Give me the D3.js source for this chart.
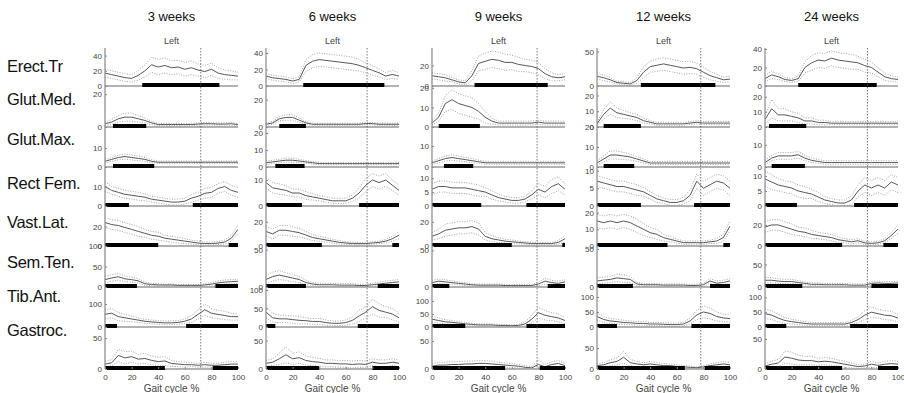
<!DOCTYPE html>
<html>
<head>
<meta charset="utf-8">
<script src="https://cdn.jsdelivr.net/npm/d3@7"></script>
<style>
  body { margin: 0; background: #fff; }
  svg { display: block; font-family: 'Liberation Sans', Arial, sans-serif; }
</style>
</head>
<body>
<svg id="chart" width="904" height="393"></svg>
<script>
// gait cycle sample points (%)
const cycle = [0, 5, 10, 15, 20, 25, 30, 35, 40, 45, 50, 55, 60, 65, 70, 75, 80, 85, 90, 95, 100];

const weeks = ['3 weeks', '6 weeks', '9 weeks', '12 weeks', '24 weeks'];
const muscles = ['Erect.Tr', 'Glut.Med.', 'Glut.Max.', 'Rect Fem.', 'Vast.Lat.', 'Sem.Ten.', 'Tib.Ant.', 'Gastroc.'];
const xTicks = [0, 20, 40, 60, 80, 100];

// toe-off line (% of cycle) per column
const toeOff = [72, 76, 79, 78, 77];

// y limits per column, per muscle
const yMax = [
  [50, 25, 21, 20, 41, 100, 174, 68],
  [46, 30, 23.5, 15, 33, 55, 108, 74],
  [37, 21, 19, 14, 33, 56, 154, 75],
  [55, 26, 20, 11, 24, 54, 133, 100],
  [41, 27, 18, 13, 38, 91, 135, 70]
];
const yTicks = [
  [[0, 20, 40], [0, 20], [0, 10], [0, 10], [0, 20], [0, 50, 100], [0, 100], [0, 50]],
  [[0, 20, 40], [0, 20], [0, 10, 20], [0, 10], [0, 20], [0, 50], [0, 50, 100], [0, 50]],
  [[0, 20], [0, 10, 20], [0, 10], [0, 5, 10], [0, 20], [0, 50], [0, 50, 100], [0, 50]],
  [[0, 50], [0, 10, 20], [0, 10, 20], [0, 5, 10], [0, 10, 20], [0, 50], [0, 50, 100], [0, 50]],
  [[0, 20, 40], [0, 10, 20], [0, 10], [0, 5, 10], [0, 20], [0, 50], [0, 50, 100], [0, 50]]
];

// mean EMG envelopes
const mean3w = [
  [17, 15, 13, 11, 10, 14, 20, 28, 25, 27, 24, 25, 22, 24, 21, 19, 22, 17, 15, 14, 13],
  [2, 3, 5, 6, 6, 5, 4, 2.5, 1.5, 1.5, 1.5, 1.5, 1.5, 1.5, 1.8, 2, 2, 1.8, 1.8, 2, 1.5],
  [3, 4, 5, 5.5, 5, 4.5, 4, 3, 2.5, 2.5, 2.5, 2.5, 2.5, 2.5, 2.5, 2.5, 2.5, 2.5, 2.5, 2.5, 2.5],
  [10, 8, 7, 6, 5.5, 5, 4.5, 3.5, 3, 2.5, 2, 2, 2.5, 4, 5, 6.5, 7, 9, 10, 8, 7],
  [24, 22, 21, 19, 17, 15, 13, 11, 10, 8, 7, 6, 5, 4, 3, 2.5, 2.5, 3, 4, 8, 17],
  [18, 22, 25, 20, 18, 15, 8, 6, 5, 5, 5, 4, 4, 4, 4, 5, 7, 10, 12, 13, 14],
  [55, 60, 45, 40, 35, 30, 25, 22, 20, 18, 18, 20, 25, 35, 55, 75, 60, 55, 50, 45, 45],
  [8, 10, 22, 18, 20, 16, 17, 14, 12, 13, 9, 8, 7, 7, 6, 7, 6, 6, 7, 8, 8]
];
const mean6w = [
  [12, 10, 9, 8, 6, 8, 25, 30, 32, 31, 30, 29, 28, 27, 25, 22, 19, 16, 12, 14, 12],
  [2, 3, 6, 7, 7, 5, 3, 2, 2, 2, 2, 2, 2, 2, 2, 2.5, 2.5, 2, 2, 2, 2],
  [2.5, 3, 3.5, 4, 4, 3.5, 3, 2.5, 2, 2, 2, 2, 2, 2, 2, 2, 2, 2, 2, 2, 2],
  [9, 7, 6.5, 6, 5, 5, 4, 3.5, 3, 2.5, 2, 2, 2, 3, 5, 8, 10, 9, 10, 8, 6],
  [12, 10, 13, 13, 12, 11, 9, 7, 6, 5, 4, 3, 2.5, 2, 2, 2, 2.5, 3, 4, 6, 9],
  [10, 14, 16, 14, 12, 10, 6, 4, 3, 3, 3, 2.5, 2.5, 2.5, 2, 2, 3, 4, 5, 6, 7],
  [40, 25, 22, 22, 20, 18, 17, 15, 15, 12, 10, 10, 12, 18, 30, 40, 55, 45, 40, 35, 25],
  [10, 12, 18, 25, 18, 20, 15, 13, 12, 10, 10, 9, 9, 8, 9, 8, 12, 10, 10, 12, 10]
];
const mean9w = [
  [10, 9, 8, 6, 4, 3, 10, 22, 24, 26, 25, 23, 23, 21, 20, 19, 17, 12, 9, 8, 9],
  [2, 5, 12, 14, 12, 11, 10, 8, 5, 3, 2, 2, 2, 2, 2, 2, 2.5, 2, 2, 2, 2],
  [2, 3, 4, 4.5, 4, 3.5, 3, 2.5, 2, 2, 2, 2, 2, 2, 2, 2, 2, 2, 2, 2, 2],
  [6, 7, 7, 6.5, 6.5, 6.5, 6, 5.5, 5, 4, 3, 2.5, 2, 2, 2.5, 4, 6, 5, 7, 8, 6],
  [8, 10, 13, 14, 15, 15, 16, 14, 8, 6, 5, 4, 3.5, 3, 2.5, 2, 2, 2, 2, 3, 6],
  [6, 8, 7, 6, 5, 4, 3, 2.5, 2.5, 2.5, 2.5, 2, 2, 2, 2, 2, 4, 8, 6, 5, 7],
  [30, 25, 20, 18, 15, 12, 10, 8, 8, 8, 6, 6, 5, 6, 12, 30, 55, 45, 40, 35, 25],
  [5, 7, 7, 8, 8, 9, 9, 10, 10, 9, 8, 7, 6, 5, 3, 2, 8, 4, 8, 10, 6]
];
const mean12w = [
  [14, 12, 9, 5, 4, 3, 8, 20, 28, 30, 32, 30, 28, 26, 27, 25, 20, 15, 12, 9, 10],
  [2, 8, 12, 9, 8, 7, 6, 4, 3, 2, 2, 2, 2, 2, 2.5, 3, 2.5, 2.5, 2.5, 2.5, 2.5],
  [2, 4, 6, 6, 5.5, 5, 4, 3, 2, 2, 2, 2, 2, 2, 2, 2, 2, 2, 2, 2, 2],
  [7, 6.5, 6, 5.5, 5.5, 5, 4.5, 4, 3, 2, 1.5, 1, 1, 1.5, 3, 7, 5, 6, 7, 6.5, 5],
  [15, 14, 15, 14, 15, 14, 12, 10, 8, 7, 5, 4, 3, 2, 2, 2, 2, 2.5, 3, 5, 12],
  [8, 9, 10, 12, 11, 10, 4, 3, 3, 3, 2.5, 2.5, 2.5, 2.5, 2, 2, 3, 8, 5, 6, 8],
  [35, 25, 20, 18, 15, 14, 12, 12, 10, 10, 9, 8, 8, 10, 20, 40, 50, 45, 35, 30, 28],
  [8, 10, 15, 18, 28, 15, 12, 10, 12, 10, 8, 8, 6, 5, 4, 3, 5, 8, 10, 12, 10]
];
const mean24w = [
  [8, 12, 10, 7, 6, 8, 20, 25, 28, 27, 30, 28, 27, 26, 25, 22, 20, 15, 10, 8, 7],
  [5, 12, 8, 8, 7, 6, 4, 4, 3, 3, 2.5, 2.5, 2.5, 2.5, 2.5, 2.5, 2.5, 2.5, 2.5, 2.5, 2.5],
  [2, 4, 5, 5, 5, 5.5, 4, 3, 2.5, 2, 2, 2, 2, 2, 2, 2, 2, 2, 2, 2, 2],
  [9, 8, 7, 6.5, 6, 5, 4.5, 4, 3, 2, 1.5, 1, 1, 2, 5, 7, 6, 7, 6, 8, 7],
  [18, 20, 20, 18, 16, 14, 13, 11, 10, 9, 8, 6, 5, 4, 5, 3, 2.5, 3, 5, 10, 16],
  [15, 15, 13, 12, 12, 10, 8, 6, 6, 5, 5, 5, 5, 4, 4, 4, 8, 9, 8, 8, 9],
  [45, 40, 30, 22, 18, 15, 12, 10, 10, 10, 10, 10, 10, 15, 25, 40, 50, 45, 40, 38, 30],
  [5, 8, 10, 20, 18, 15, 14, 14, 12, 13, 12, 10, 8, 6, 4, 5, 8, 6, 8, 9, 8]
];

// standard deviations
const sd3w = [
  [5, 5, 5, 5, 5, 6, 8, 10, 10, 10, 9, 9, 9, 9, 8, 8, 8, 7, 6, 6, 5],
  [1, 1.5, 2, 2.5, 2.5, 2, 1.5, 1, 0.7, 0.7, 0.7, 0.7, 0.7, 0.7, 0.7, 0.8, 0.8, 0.7, 0.7, 0.8, 0.7],
  [1, 1, 1.2, 1.3, 1.3, 1.2, 1, 0.8, 0.6, 0.6, 0.6, 0.6, 0.6, 0.6, 0.6, 0.6, 0.6, 0.6, 0.6, 0.6, 0.6],
  [2.5, 2, 2, 2, 2, 2, 1.8, 1.5, 1.5, 1.5, 1.5, 1.5, 1.5, 2, 2, 2.5, 2.5, 2.5, 2.5, 2.5, 2.5],
  [5, 5, 5, 5, 5, 5, 4, 4, 4, 3, 3, 3, 2.5, 2, 2, 1.5, 1.5, 1.5, 2, 3, 4],
  [8, 8, 8, 7, 6, 5, 4, 3, 3, 2, 2, 2, 2, 2, 2, 3, 4, 5, 5, 5, 5],
  [20, 20, 18, 15, 12, 10, 8, 8, 8, 8, 8, 8, 10, 15, 20, 25, 20, 18, 18, 15, 15],
  [4, 5, 10, 10, 9, 8, 8, 7, 7, 7, 5, 4, 4, 3, 3, 4, 3, 3, 4, 4, 4]
];
const sd6w = [
  [3, 3, 3, 3, 3, 3, 7, 8, 8, 8, 8, 8, 8, 8, 7, 6, 6, 5, 4, 5, 4],
  [1, 1, 1.5, 2, 2, 1.5, 1, 0.8, 0.8, 0.8, 0.8, 0.8, 0.8, 0.8, 0.8, 0.8, 0.8, 0.8, 0.8, 0.8, 0.8],
  [1, 1, 1, 1.2, 1.2, 1, 0.8, 0.7, 0.7, 0.7, 0.7, 0.7, 0.7, 0.7, 0.7, 0.7, 0.7, 0.7, 0.7, 0.7, 0.7],
  [2, 2, 2, 1.8, 1.5, 1.5, 1.5, 1.2, 1, 1, 1, 1, 1, 1.2, 2, 2.5, 2.5, 2.5, 2.5, 2, 2],
  [4, 4, 4, 4, 4, 3.5, 3, 2.5, 2, 2, 1.5, 1.5, 1, 1, 1, 1, 1, 1, 1.5, 2, 3],
  [5, 6, 6, 5, 5, 4, 3, 2, 2, 2, 2, 2, 2, 2, 1.5, 1.5, 2, 2.5, 3, 3, 3],
  [15, 12, 10, 10, 10, 10, 8, 8, 8, 7, 6, 6, 7, 10, 15, 15, 20, 18, 15, 15, 12],
  [5, 6, 10, 14, 10, 10, 8, 7, 7, 6, 6, 6, 6, 6, 6, 6, 6, 6, 6, 6, 6]
];
const sd9w = [
  [3, 3, 3, 2, 2, 2, 5, 7, 8, 8, 8, 8, 7, 7, 6, 6, 6, 5, 4, 3, 3],
  [1, 2, 4, 5, 5, 5, 5, 4, 3, 1.5, 1, 1, 1, 1, 1, 1, 1, 1, 1, 1, 1],
  [0.8, 1, 1.2, 1.3, 1.2, 1, 1, 0.8, 0.7, 0.7, 0.7, 0.7, 0.7, 0.7, 0.7, 0.7, 0.7, 0.7, 0.7, 0.7, 0.7],
  [2, 2, 2, 2, 2, 2, 2, 2, 1.5, 1.5, 1.2, 1, 1, 1, 1, 1.5, 2, 2, 2.5, 2.5, 2],
  [3, 4, 5, 5, 5, 5, 5, 5, 3, 2.5, 2, 1.5, 1.5, 1.2, 1, 1, 1, 1, 1, 1.5, 2.5],
  [3, 3, 3, 2.5, 2, 2, 1.5, 1.5, 1.5, 1.5, 1.5, 1.5, 1.5, 1.5, 1.5, 1.5, 2.5, 4, 3, 3, 3],
  [12, 10, 8, 7, 6, 5, 5, 4, 4, 4, 4, 4, 3, 4, 8, 15, 20, 18, 15, 15, 12],
  [4, 5, 5, 5, 5, 5, 5, 5, 5, 5, 4, 4, 4, 3, 3, 2, 8, 4, 5, 5, 4]
];
const sd12w = [
  [4, 4, 3, 2, 2, 2, 4, 8, 8, 9, 9, 9, 9, 9, 9, 8, 7, 6, 5, 4, 4],
  [1, 3, 4, 3, 2.5, 2, 2, 1.5, 1, 1, 1, 1, 1, 1, 1, 1, 1, 1, 1, 1, 1],
  [1, 1.5, 2, 2, 1.8, 1.5, 1.2, 1, 0.8, 0.8, 0.8, 0.8, 0.8, 0.8, 0.8, 0.8, 0.8, 0.8, 0.8, 0.8, 0.8],
  [1.5, 1.5, 1.5, 1.5, 1.5, 1.5, 1.5, 1.2, 1, 1, 0.8, 0.8, 0.8, 1, 1.5, 2, 2, 2, 2, 2, 2],
  [4, 4, 4, 4, 4, 4, 4, 3.5, 3, 3, 2, 1.5, 1.2, 1, 1, 1, 1, 1, 1.5, 2, 3],
  [4, 4, 4, 5, 5, 4, 2, 1.5, 1.5, 1.5, 1.5, 1.5, 1.5, 1.5, 1.5, 1.5, 2, 3, 3, 3, 3],
  [12, 10, 8, 8, 7, 6, 6, 6, 5, 5, 5, 5, 5, 6, 10, 15, 20, 18, 15, 12, 12],
  [4, 5, 7, 8, 14, 8, 6, 5, 6, 5, 5, 4, 4, 3, 3, 2, 3, 4, 5, 6, 5]
];
const sd24w = [
  [3, 4, 3, 2, 2, 3, 6, 8, 8, 8, 8, 8, 8, 8, 7, 7, 6, 5, 4, 3, 3],
  [3, 6, 4, 4, 3, 3, 2, 2, 1.5, 1.5, 1, 1, 1, 1, 1, 1, 1, 1, 1, 1, 1],
  [1, 1.2, 1.5, 1.5, 1.5, 1.5, 1.2, 1, 0.8, 0.8, 0.8, 0.8, 0.8, 0.8, 0.8, 0.8, 0.8, 0.8, 0.8, 0.8, 0.8],
  [2.5, 2.5, 2, 2, 2, 2, 2, 1.5, 1.5, 1.2, 1, 1, 1, 1.5, 2, 2.5, 2.5, 2.5, 2.5, 2.5, 2.5],
  [5, 5, 5, 5, 5, 4, 4, 4, 3, 3, 3, 2.5, 2, 2, 2, 1.5, 1.5, 1.5, 2, 3, 4],
  [6, 6, 5, 5, 5, 4, 3, 3, 3, 3, 3, 3, 3, 3, 3, 3, 4, 4, 4, 4, 4],
  [15, 15, 12, 10, 8, 7, 6, 5, 5, 5, 5, 5, 5, 7, 10, 15, 18, 15, 15, 15, 12],
  [4, 5, 6, 10, 10, 8, 7, 7, 6, 6, 6, 5, 5, 4, 3, 3, 5, 4, 5, 5, 5]
];

// on-periods (start %, end %) drawn as thick black bars
const on3w = [[[28, 86]], [[6, 31]], [[6, 37]], [[0, 18], [66, 100]], [[0, 40], [93, 100]], [[0, 24], [83, 100]], [[0, 9], [61, 100]], [[0, 45], [81, 100]]];
const on6w = [[[28, 89]], [[10, 30]], [[7, 29]], [[0, 27], [70, 100]], [[0, 42], [95, 100]], [[0, 30], [84, 100]], [[0, 7], [69, 100]], [[0, 40], [80, 100]]];
const on9w = [[[32, 87]], [[5, 36]], [[9, 31]], [[0, 37], [71, 100]], [[0, 60], [98, 100]], [[0, 13], [87, 100]], [[0, 25], [71, 100]], [[0, 55], [81, 100]]];
const on12w = [[[33, 89]], [[5, 33]], [[5, 28]], [[0, 33], [73, 100]], [[0, 53], [95, 100]], [[0, 27], [85, 100]], [[0, 15], [71, 100]], [[0, 66], [81, 100]]];
const on24w = [[[25, 84]], [[3, 31]], [[5, 30]], [[0, 24], [67, 100]], [[0, 58], [89, 100]], [[0, 28], [80, 100]], [[0, 16], [64, 100]], [[0, 58], [85, 100]]];

const means = [mean3w, mean6w, mean9w, mean12w, mean24w];
const sds = [sd3w, sd6w, sd9w, sd12w, sd24w];
const onsets = [on3w, on6w, on9w, on12w, on24w];

// layout
const colLeft = [105, 266, 432, 597, 765];
const panelW = 133;
const rowTop = [48, 86, 127, 167, 206, 246, 287, 327];
const rowBottom = [86, 127, 167, 206, 246, 287, 327, 369];
const labelY = [72, 105, 145, 189, 228, 268, 302, 336];

const svg = d3.select('#chart');

// muscle names
svg.append('g')
  .selectAll('text')
  .data(muscles)
  .join('text')
  .attr('x', 7)
  .attr('y', (d, i) => labelY[i])
  .attr('font-size', 16.5)
  .attr('letter-spacing', -0.3)
  .attr('fill', '#111')
  .text((d) => d);

weeks.forEach((week, c) => {
  const x = d3.scaleLinear([0, 100], [colLeft[c], colLeft[c] + panelW]);
  const col = svg.append('g');

  col.append('text')
    .attr('x', x(50))
    .attr('y', 21)
    .attr('text-anchor', 'middle')
    .attr('font-size', 13)
    .attr('fill', '#111')
    .text(week);

  col.append('text')
    .attr('x', x(50))
    .attr('y', 44)
    .attr('text-anchor', 'middle')
    .attr('font-size', 9)
    .attr('fill', '#444')
    .text('Left');

  muscles.forEach((m, r) => {
    const y = d3.scaleLinear([0, yMax[c][r]], [rowBottom[r], rowTop[r]]);
    const mu = means[c][r];
    const sd = sds[c][r];
    const clipId = `clip-${c}-${r}`;

    col.append('clipPath')
      .attr('id', clipId)
      .append('rect')
      .attr('x', x(0))
      .attr('y', rowTop[r])
      .attr('width', panelW)
      .attr('height', rowBottom[r] - rowTop[r]);

    const g = col.append('g');
    const plot = g.append('g').attr('clip-path', `url(#${clipId})`);

    const line = d3.line()
      .x((d, i) => x(cycle[i]))
      .y((d) => y(d));

    // +/- SD
    [1, -1].forEach((s) => {
      plot.append('path')
        .datum(mu.map((v, i) => Math.max(0, v + s * sd[i])))
        .attr('d', line)
        .attr('fill', 'none')
        .attr('stroke', '#8a8a8a')
        .attr('stroke-width', 0.8)
        .attr('stroke-dasharray', '1,1.5');
    });

    plot.append('path')
      .datum(mu)
      .attr('d', line)
      .attr('fill', 'none')
      .attr('stroke', '#444')
      .attr('stroke-width', 0.9);

    // baseline + activation bars
    g.append('line')
      .attr('x1', x(0))
      .attr('x2', x(100))
      .attr('y1', y(0))
      .attr('y2', y(0))
      .attr('stroke', '#999')
      .attr('stroke-width', 1.4);

    g.selectAll('.on')
      .data(onsets[c][r])
      .join('line')
      .attr('class', 'on')
      .attr('x1', (d) => x(d[0]))
      .attr('x2', (d) => x(d[1]))
      .attr('y1', y(0) - 1)
      .attr('y2', y(0) - 1)
      .attr('stroke', '#000')
      .attr('stroke-width', 4);

    // y axis
    g.append('g')
      .attr('transform', `translate(${x(0)},0)`)
      .call(d3.axisLeft(y).tickValues(yTicks[c][r]).tickSize(-2).tickPadding(3))
      .call((a) => a.select('.domain').remove())
      .call((a) => a.selectAll('.tick line').attr('stroke', '#888'))
      .call((a) => a.selectAll('.tick text').attr('fill', '#444').attr('font-size', 8)
        .attr('font-family', "'Liberation Sans', Arial, sans-serif"));
  });

  // left axis line
  col.append('line')
    .attr('x1', x(0))
    .attr('x2', x(0))
    .attr('y1', rowTop[0])
    .attr('y2', rowBottom[7])
    .attr('stroke', '#888')
    .attr('stroke-width', 1.2);

  // toe-off marker
  col.append('line')
    .attr('x1', x(toeOff[c]))
    .attr('x2', x(toeOff[c]))
    .attr('y1', rowTop[0])
    .attr('y2', rowBottom[7])
    .attr('stroke', '#555')
    .attr('stroke-width', 0.8)
    .attr('stroke-dasharray', '1.5,1.5');

  // x axis
  col.append('g')
    .attr('transform', `translate(0,${rowBottom[7]})`)
    .call(d3.axisBottom(x).tickValues(xTicks).tickSize(-2).tickPadding(5))
    .call((a) => a.select('.domain').remove())
    .call((a) => a.selectAll('.tick line').attr('stroke', '#888'))
    .call((a) => a.selectAll('.tick text').attr('fill', '#444').attr('font-size', 8)
      .attr('font-family', "'Liberation Sans', Arial, sans-serif"));

  col.append('text')
    .attr('x', x(50))
    .attr('y', 392)
    .attr('text-anchor', 'middle')
    .attr('font-size', 10)
    .attr('fill', '#444')
    .text('Gait cycle %');
});
</script>
</body>
</html>
